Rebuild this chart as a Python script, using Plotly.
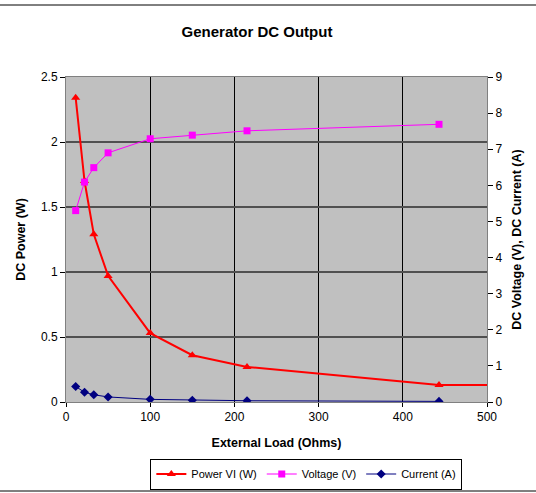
import plotly.graph_objects as go

load_ohms = [11.5, 22, 33, 50, 100, 150, 215, 443]
power_w = [2.34, 1.70, 1.29, 0.97, 0.53, 0.36, 0.27, 0.13]
voltage_v = [5.3, 6.09, 6.49, 6.9, 7.29, 7.39, 7.51, 7.69]
current_a = [0.43, 0.27, 0.20, 0.14, 0.073, 0.049, 0.035, 0.017]
# power line continues flat to the axis edge
power_tail_x = [443, 500]
power_tail_y = [0.13, 0.13]

FONT = "Liberation Sans, Arial, sans-serif"

fig = go.Figure()
fig.add_trace(go.Scatter(x=power_tail_x, y=power_tail_y, mode="lines",
                         line=dict(color="#FF0000", width=2), showlegend=False,
                         hoverinfo="skip"))
fig.add_trace(go.Scatter(x=load_ohms, y=power_w, mode="lines+markers", name="Power VI (W)",
                         line=dict(color="#FF0000", width=2),
                         marker=dict(symbol="triangle-up", size=8, color="#FF0000")))
fig.add_trace(go.Scatter(x=load_ohms, y=voltage_v, mode="lines+markers", name="Voltage (V)",
                         yaxis="y2", line=dict(color="#FF00FF", width=1),
                         marker=dict(symbol="square", size=7, color="#FF00FF")))
fig.add_trace(go.Scatter(x=load_ohms, y=current_a, mode="lines+markers", name="Current (A)",
                         yaxis="y2", line=dict(color="#000080", width=1),
                         marker=dict(symbol="diamond", size=7, color="#000080")))

fig.update_layout(
    width=536, height=493,
    margin=dict(l=66, r=49, t=77, b=91, autoexpand=False),
    paper_bgcolor="white", plot_bgcolor="#C0C0C0",
    font=dict(family=FONT, size=12, color="black"),
    title=dict(text="<b>Generator DC Output</b>", x=257 / 536, xanchor="center",
               y=1 - 32 / 493, yanchor="middle", font=dict(size=15)),
    xaxis=dict(range=[0, 500], dtick=100, showgrid=True, gridcolor="black", gridwidth=1,
               showline=True, linecolor="#808080", linewidth=1, mirror=True,
               ticks="outside", ticklen=4, tickcolor="black", zeroline=False,
               title=dict(text="<b>External Load (Ohms)</b>", font=dict(size=12.5), standoff=14)),
    yaxis=dict(range=[0, 2.5], dtick=0.5, showgrid=True, gridcolor="#505050", gridwidth=1.5,
               showline=True, linecolor="#808080", linewidth=1,
               ticks="outside", ticklen=5, tickcolor="black", zeroline=False,
               title=dict(text="<b>DC Power (W)</b>", font=dict(size=12.5), standoff=12)),
    yaxis2=dict(range=[0, 9], dtick=1, overlaying="y", side="right", showgrid=False,
                showline=True, linecolor="#808080", linewidth=1,
                ticks="outside", ticklen=5, tickcolor="black", zeroline=False,
                title=dict(text="<b>DC Voltage (V), DC Current (A)</b>", font=dict(size=12.5), standoff=10)),
    legend=dict(orientation="h", x=306 / 536 * 1.0, xanchor="center", y=-72 / 325, yanchor="middle",
                bordercolor="black", borderwidth=1, bgcolor="white",
                font=dict(size=11), itemwidth=30, tracegroupgap=0),
    shapes=[
        dict(type="line", xref="paper", yref="paper", x0=-0.2, x1=1.2,
             y0=1 + 72 / 325, y1=1 + 72 / 325, line=dict(color="black", width=1)),
        dict(type="line", xref="paper", yref="paper", x0=-0.2, x1=1.2,
             y0=-89 / 325, y1=-89 / 325, line=dict(color="black", width=1)),
    ],
)

fig.write_html("out.html", config={"displayModeBar": False},
               post_script="document.body.style.margin='0';")
